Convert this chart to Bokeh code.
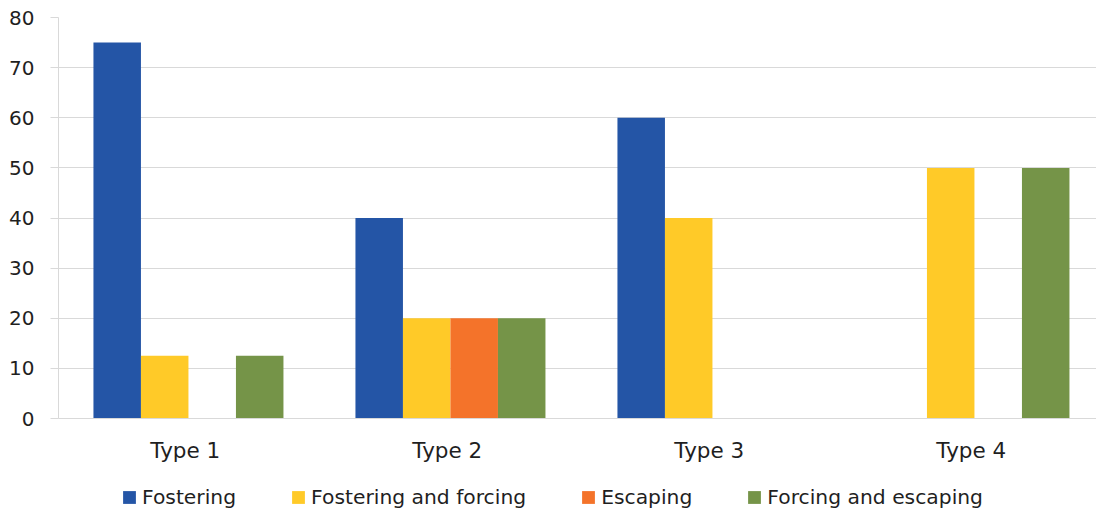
from bokeh.plotting import figure
from bokeh.layouts import column
from bokeh.models import Range1d, Legend, LegendItem, ColumnDataSource, FixedTicker
from bokeh.embed import file_html
from bokeh.resources import INLINE

categories = ["Type 1", "Type 2", "Type 3", "Type 4"]
series_names = ["Fostering", "Fostering and forcing", "Escaping", "Forcing and escaping"]
fostering = [75, 40, 60, 0]
fostering_forcing = [12.5, 20, 40, 50]
escaping = [0, 20, 0, 0]
forcing_escaping = [12.5, 20, 0, 50]
y_ticks = [0, 10, 20, 30, 40, 50, 60, 70, 80]

colors = ["#2455A6", "#FFCA28", "#F4732A", "#759448"]
FONT = "DejaVu Sans"
TEXT = "#1f1f1f"
GRID = "#d9d9d9"

centers = [i + 0.5 for i in range(len(categories))]
series = [fostering, fostering_forcing, escaping, forcing_escaping]

p = figure(frame_width=1038, frame_height=401, x_range=Range1d(0, 1038 / 262),
           y_range=Range1d(0, 80), output_backend="svg", toolbar_location=None,
           min_border_left=58, min_border_right=0, min_border_top=17, min_border_bottom=52)

step = 0.1813
sources = []
for i, vals in enumerate(series):
    src = ColumnDataSource(dict(x=[c + (i - 1.5) * step - 0.004 for c in centers], top=vals))
    sources.append(src)
    p.vbar(x="x", top="top", width=step, source=src, fill_color=colors[i], line_color=None)

p.outline_line_color = None
p.xgrid.grid_line_color = None
p.ygrid.grid_line_color = GRID
p.ygrid.ticker = FixedTicker(ticks=y_ticks)
p.yaxis.ticker = FixedTicker(ticks=y_ticks)

p.yaxis.axis_line_color = GRID
p.yaxis.major_tick_line_color = GRID
p.yaxis.major_tick_out = 8
p.yaxis.major_tick_in = 0
p.yaxis.minor_tick_line_color = None
p.yaxis.major_label_standoff = 16
p.yaxis.major_label_text_font = FONT
p.yaxis.major_label_text_font_size = "20px"
p.yaxis.major_label_text_color = TEXT

label_pos = [c - 0.016 for c in centers]
p.xaxis.ticker = FixedTicker(ticks=label_pos)
p.xaxis.major_label_overrides = {c: name for c, name in zip(label_pos, categories)}
p.xaxis.axis_line_color = GRID
p.xaxis.major_tick_line_color = None
p.xaxis.minor_tick_line_color = None
p.xaxis.major_label_standoff = 13
p.xaxis.major_label_text_font = FONT
p.xaxis.major_label_text_font_size = "21.5px"
p.xaxis.major_label_text_color = TEXT

# legend strip below the chart (its frame is aligned with the chart's frame)
lg = figure(width=1096, height=41, x_range=p.x_range, y_range=Range1d(1000, 1001),
            output_backend="svg", toolbar_location=None,
            x_axis_location=None, y_axis_location=None,
            min_border_left=58, min_border_right=0, min_border_top=0, min_border_bottom=0)
lg.grid.visible = False
lg.outline_line_color = None
items = []
for name, col, src in zip(series_names, colors, sources):
    r = lg.vbar(x="x", top="top", width=step, source=src, fill_color=col, line_color=None)
    items.append(LegendItem(label=name, renderers=[r]))
legend = Legend(items=items, orientation="horizontal", location=(63, 2),
                glyph_width=16, glyph_height=16, label_standoff=5, spacing=54,
                label_text_font=FONT, label_text_font_size="20.3px", label_text_color=TEXT,
                border_line_color=None, background_fill_alpha=0, padding=0, margin=0)
lg.add_layout(legend, "center")

layout = column(p, lg, spacing=0)
open("out.html", "w").write(file_html(layout, INLINE))
